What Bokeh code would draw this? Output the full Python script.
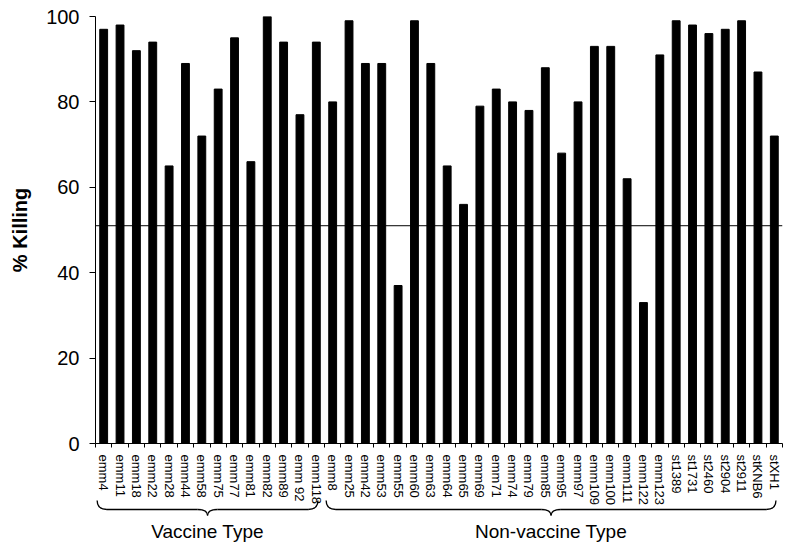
import numpy as np
from bokeh.plotting import figure
from bokeh.models import Range1d, FixedTicker, Span
from bokeh.layouts import column
from bokeh.embed import file_html
from bokeh.resources import INLINE
from bokeh.core.properties import value

# ---- data ----
vaccine_types = ["emm4", "emm11", "emm18", "emm22", "emm28", "emm44", "emm58",
                 "emm75", "emm77", "emm81", "emm82", "emm89", "emm 92", "emm118"]
vaccine_killing = [97, 98, 92, 94, 65, 89, 72, 83, 95, 66, 100, 94, 77, 94]

nonvaccine_types = ["emm8", "emm25", "emm42", "emm53", "emm55", "emm60", "emm63",
                    "emm64", "emm65", "emm69", "emm71", "emm74", "emm79", "emm85",
                    "emm95", "emm97", "emm109", "emm100", "emm111", "emm122",
                    "emm123", "st1389", "st1731", "st2460", "st2904", "st2911",
                    "stKNB6", "stXH1"]
nonvaccine_killing = [80, 99, 89, 89, 37, 99, 89, 65, 56, 79, 83, 80, 78, 88,
                      68, 80, 93, 93, 62, 33, 91, 99, 98, 96, 97, 99, 87, 72]

threshold = 51
y_ticks = [0, 20, 40, 60, 80, 100]
group_names = ["Vaccine Type", "Non-vaccine Type"]

# ---- derived ----
categories = vaccine_types + nonvaccine_types
killing = vaccine_killing + nonvaccine_killing
n = len(categories)
idx = list(range(n))
groups = [(0, len(vaccine_types) - 1),
          (len(vaccine_types), n - 1)]

FONT = "Liberation Sans"
LEFT = 95
RIGHT = 2
W = 784
TOP = 16
FH = 427
BOTTOM = 65
H1 = TOP + FH + BOTTOM

p = figure(width=W, height=H1,
           x_range=Range1d(-0.5, n - 0.5), y_range=Range1d(0, 100),
           output_backend="svg", toolbar_location=None,
           min_border_left=LEFT, min_border_right=RIGHT,
           min_border_top=TOP, min_border_bottom=BOTTOM)
p.vbar(x=idx, top=killing, width=0.48, color="black")
p.add_layout(Span(location=threshold, dimension="width",
                  line_color="black", line_width=1))
p.xgrid.visible = False
p.ygrid.visible = False
p.outline_line_color = None

xa = p.xaxis[0]
xa.ticker = FixedTicker(ticks=idx, minor_ticks=[i - 0.5 for i in range(n + 1)])
xa.major_label_overrides = {i: c for i, c in enumerate(categories)}
xa.major_label_orientation = "vertical"
xa.major_tick_out = 0
xa.major_tick_in = 0
xa.minor_tick_out = 4
xa.minor_tick_in = 0
xa.major_label_standoff = 7
xa.major_label_text_font = FONT
xa.major_label_text_font_size = "13px"
xa.major_label_text_color = "black"
xa.axis_line_color = "black"
xa.minor_tick_line_color = "black"

ya = p.yaxis[0]
ya.ticker = FixedTicker(ticks=y_ticks)
ya.major_tick_out = 6
ya.major_tick_in = 0
ya.minor_tick_out = 0
ya.minor_tick_in = 0
ya.major_label_standoff = 10
ya.major_label_text_font = FONT
ya.major_label_text_font_size = "20px"
ya.major_label_text_color = "black"
ya.axis_label = "% Killing"
ya.axis_label_text_font = FONT
ya.axis_label_text_font_style = "bold"
ya.axis_label_text_font_size = "20px"
ya.axis_label_text_color = "black"
ya.axis_label_standoff = 12
ya.axis_line_color = "black"
ya.major_tick_line_color = "black"

# ---- braces figure (pulled up slightly to overlap the label area) ----
OVERLAP = 10
BH = 50
p2 = figure(width=W, height=BH,
            x_range=p.x_range, y_range=Range1d(BH, 0),
            x_axis_location=None, y_axis_location=None,
            output_backend="svg", toolbar_location=None,
            min_border_left=LEFT, min_border_right=RIGHT,
            min_border_top=0, min_border_bottom=0,
            margin=(-OVERLAP, 0, 0, 0))
p2.grid.visible = False
p2.outline_line_color = None
p2.background_fill_color = None
p2.border_fill_color = None

r = 0.6
y_end, y_h, y_t, y_txt = 2, 11, 17, 33
qx0, qy0, qx1, qy1, qcx, qcy = [], [], [], [], [], []
sx0, sx1, sy = [], [], []
mids = []
for first, last in groups:
    a = first - 0.4
    b = last + 0.1
    m = (a + b) / 2
    mids.append(m)
    for (x0, y0, x1, y1, cx, cy) in [
        (a, y_end, a + r, y_h, a, y_h),
        (m - r, y_h, m, y_t, m, y_h),
        (m, y_t, m + r, y_h, m, y_h),
        (b - r, y_h, b, y_end, b, y_h),
    ]:
        qx0.append(x0); qy0.append(y0); qx1.append(x1); qy1.append(y1)
        qcx.append(cx); qcy.append(cy)
    sx0 += [a + r, m + r]
    sx1 += [m - r, b - r]
    sy += [y_h, y_h]

p2.quadratic(x0=qx0, y0=qy0, x1=qx1, y1=qy1, cx=qcx, cy=qcy,
             line_color="black", line_width=1.3)
p2.segment(x0=sx0, y0=sy, x1=sx1, y1=sy, line_color="black", line_width=1.3)
p2.text(x=mids, y=[y_txt] * len(mids), text=group_names, text_align="center",
        text_baseline="middle", text_font=value(FONT),
        text_font_size="19px", text_color="black")

layout = column(p, p2, spacing=0)
open("out.html", "w").write(file_html(layout, INLINE))
